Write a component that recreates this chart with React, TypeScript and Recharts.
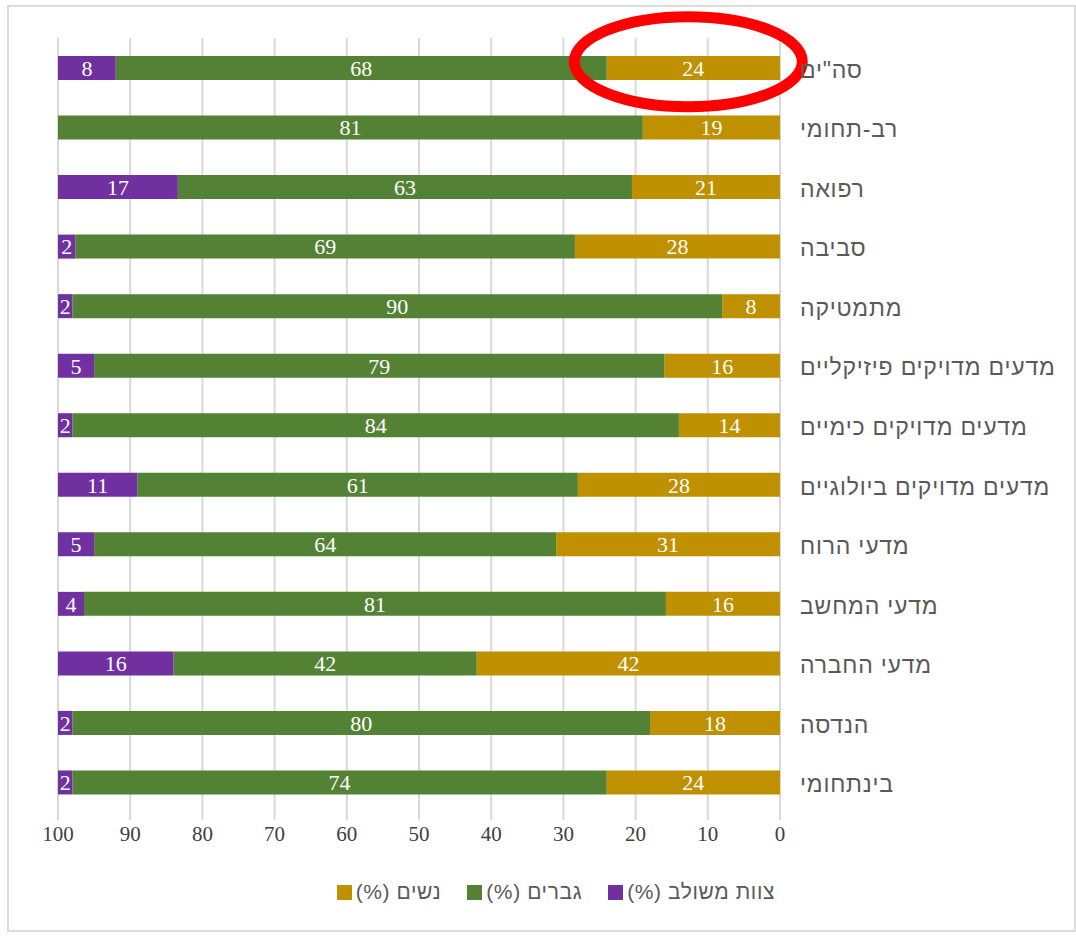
import { BarChart, Bar, XAxis, YAxis, CartesianGrid, Legend, LabelList, ReferenceDot } from "recharts";

const categories = [
  'סה"ים',
  "רב-תחומי",
  "רפואה",
  "סביבה",
  "מתמטיקה",
  "מדעים מדויקים פיזיקליים",
  "מדעים מדויקים כימיים",
  "מדעים מדויקים ביולוגיים",
  "מדעי הרוח",
  "מדעי המחשב",
  "מדעי החברה",
  "הנדסה",
  "בינתחומי",
];
// shares; labels show them rounded
const women = [24, 19, 20.5, 28.4, 8, 16, 14, 28, 31, 15.8, 42, 18, 24];
const men = [68, 81, 62.9, 69.2, 90, 79, 84, 61, 64, 80.6, 42, 80, 74];
const mixed = [8, 0, 16.6, 2.4, 2, 5, 2, 11, 5, 3.6, 16, 2, 2];
const xTicks = [0, 10, 20, 30, 40, 50, 60, 70, 80, 90, 100];

const series = [
  { key: "mixed", name: "צוות משולב (%)", color: "#7030A0" },
  { key: "men", name: "גברים (%)", color: "#548235" },
  { key: "women", name: "נשים (%)", color: "#BF9000" },
];

const data = categories.map((c, i) => ({ name: c, women: women[i], men: men[i], mixed: mixed[i] }));

const labelFont = { fontFamily: "'Liberation Serif', serif", fontSize: 22 };
const fmt = (v: any) => Math.round(Number(v));

const CatTick = (props: any) => {
  const { x, y, payload } = props;
  return (
    <text x={x} y={y} dy={2} dominantBaseline="central" textAnchor="start" fill="#595959"
      style={{ fontFamily: "'Liberation Sans', Arial, sans-serif", fontSize: 23, letterSpacing: 0.8 }}>
      {payload.value}
    </text>
  );
};

const LegendBox = () => (
  <div style={{ direction: "rtl", display: "flex", gap: 26, paddingRight: 299, fontFamily: "'Liberation Sans', Arial, sans-serif", fontSize: 21, letterSpacing: 0.6, color: "#595959", lineHeight: "28px" }}>
    {series.map((s) => (
      <div key={s.key} style={{ display: "flex", alignItems: "center", gap: 4 }}>
        <span>{s.name}</span>
        <span style={{ width: 15, height: 15, background: s.color, display: "inline-block" }} />
      </div>
    ))}
  </div>
);

const Ring = (props: any) => (
  <ellipse cx={props.cx} cy={props.cy - 6} rx={114} ry={45} fill="none" stroke="#FF0000" strokeWidth={11} />
);

export default function App() {
  return (
    <div style={{ position: "absolute", left: 7, top: 5, width: 1069, height: 927, border: "2px solid #dcdcdc", boxSizing: "border-box", background: "#fff" }}>
      <BarChart width={1065} height={923} data={data} layout="vertical" barSize={24}
        margin={{ top: 31, right: 10, left: 49, bottom: 50 }}>
        <CartesianGrid horizontal={false} stroke="#d9d9d9" strokeWidth={2} />
        <XAxis type="number" domain={[0, 100]} ticks={xTicks} reversed allowDataOverflow height={40}
          axisLine={false} tickSize={8} tickMargin={6} tickLine={{ stroke: "#d9d9d9", strokeWidth: 2 }}
          tick={{ fill: "#404040", fontSize: 21, fontFamily: "'Liberation Serif', serif" }} interval={0} />
        <YAxis type="category" dataKey="name" orientation="right" width={284} axisLine={false}
          tickLine={false} tickSize={0} tickMargin={20} tick={<CatTick />} interval={0} />
        <Legend content={<LegendBox />} wrapperStyle={{ top: 871, left: 0, width: 1065, bottom: "auto" }} />
        <Bar dataKey="women" stackId="a" fill="#BF9000" isAnimationActive={false}>
          <LabelList dataKey="women" position="center" fill="#fff" formatter={fmt} style={labelFont} />
        </Bar>
        <Bar dataKey="men" stackId="a" fill="#548235" isAnimationActive={false}>
          <LabelList dataKey="men" position="center" fill="#fff" formatter={fmt} style={labelFont} />
        </Bar>
        <Bar dataKey="mixed" stackId="a" fill="#7030A0" isAnimationActive={false}>
          <LabelList dataKey="mixed" position="center" fill="#fff" formatter={fmt} style={labelFont} />
        </Bar>
        <ReferenceDot x={12.7} y={categories[0]} ifOverflow="visible" shape={<Ring />} />
      </BarChart>
    </div>
  );
}
